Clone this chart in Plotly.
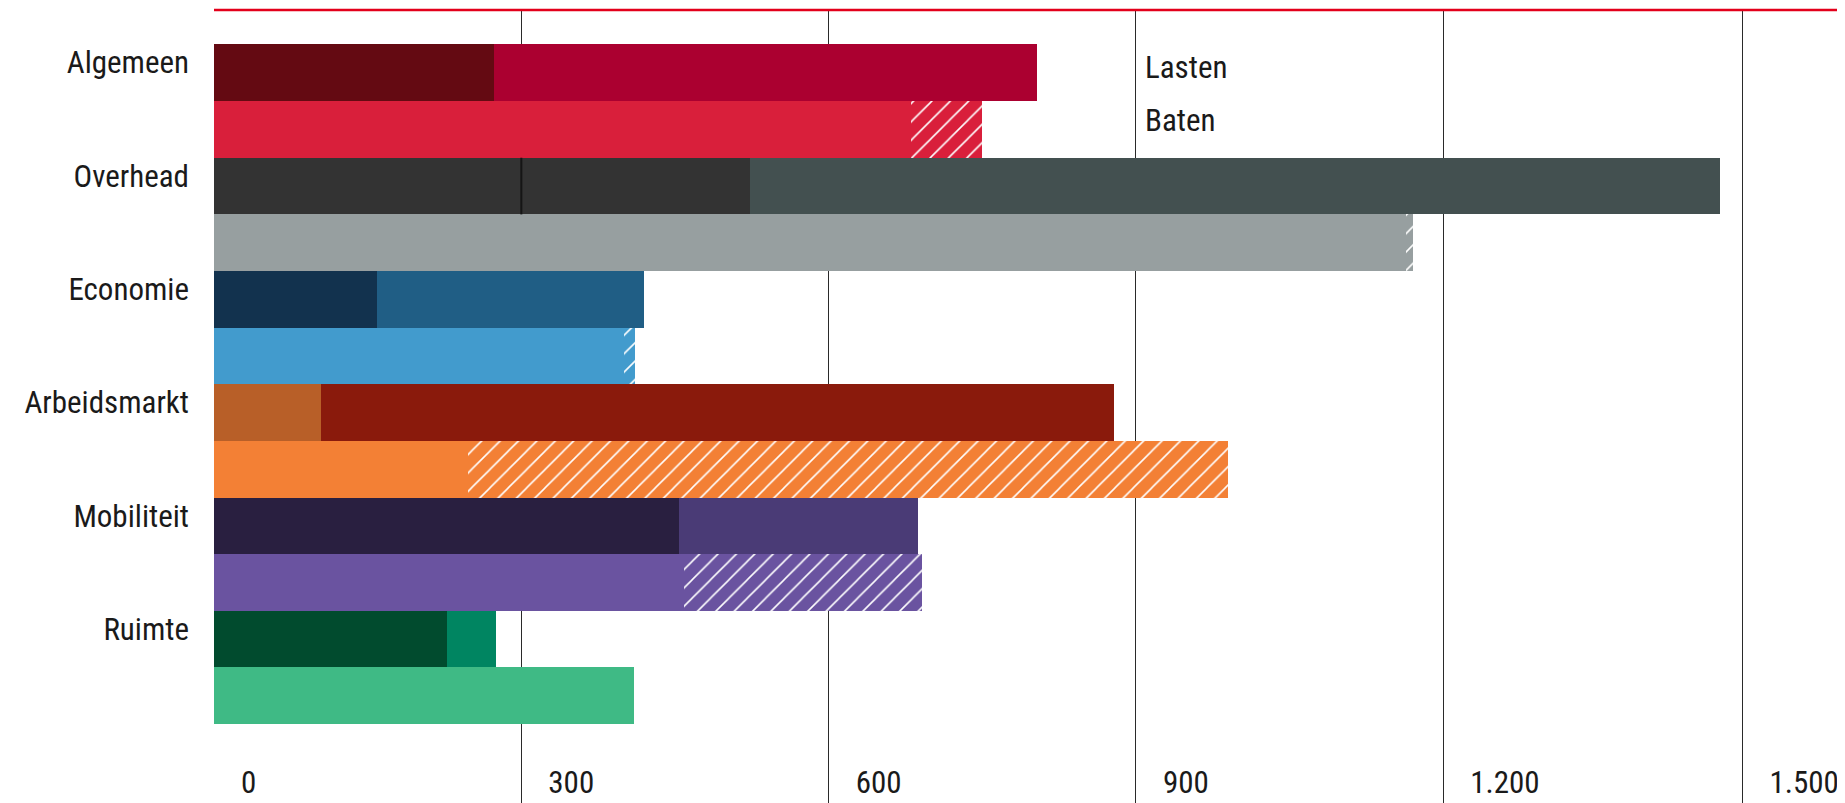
import plotly.graph_objects as go

# ---- data ----
categories = ["Algemeen", "Overhead", "Economie", "Arbeidsmarkt", "Mobiliteit", "Ruimte"]
lasten_deel1 = [273, 300, 159, 104, 454, 227]
lasten_deel2 = [530, 223, 261, 775, 233, 48]
lasten_deel3 = [0, 947, 0, 0, 0, 0]
baten_vast = [680, 1164, 400, 248, 459, 410]
baten_extra = [70, 6, 11, 742, 232, 0]
x_ticklabels = ["0", "300", "600", "900", "1.200", "1.500"]
# grid positions as drawn in the source (its last line sits slightly short of 1500)
x_tick_positions = [0, 300, 600, 900, 1200, 1492]
legend_labels = ["Lasten", "Baten"]

# ---- styles ----
col_l1 = ["#640a12", "#333333", "#12324e", "#b85f28", "#291f40", "#014b2e"]
col_l2 = ["#ab0030", "#333333", "#205e85", "#8a1a0c", "#4a3b76", "#008561"]
col_l3 = ["#ab0030", "#435050", "#205e85", "#8a1a0c", "#4a3b76", "#008561"]
col_b = ["#d91f3b", "#979fa0", "#429bcd", "#f38035", "#6a53a0", "#3fba85"]
FONT = ("Roboto Condensed, Liberation Sans Narrow, Noto Sans Condensed, "
        "DejaVu Sans Condensed, Arial Narrow, Roboto, sans-serif")
TXT = "#1a1a1a"
FS = 31

n = len(categories)
y_lasten = [2 * i for i in range(n)]
y_baten = [2 * i + 1 for i in range(n)]

fig = go.Figure()

def add_bar(vals, ypos, colors, pattern=None):
    marker = dict(color=colors, line=dict(width=0))
    if pattern:
        marker["pattern"] = pattern
    fig.add_trace(go.Bar(
        x=vals, y=ypos, orientation="h", width=1.0,
        marker=marker, showlegend=False, hoverinfo="skip",
    ))

add_bar(lasten_deel1, y_lasten, col_l1)
add_bar(lasten_deel2, y_lasten, col_l2)
add_bar(lasten_deel3, y_lasten, col_l3)
add_bar(baten_vast, y_baten, col_b)
# hatched extra part of baten, one trace per category so each gets its own background
for i in range(n):
    add_bar([baten_extra[i]], [y_baten[i]], col_b[i],
            pattern=dict(shape="/", fgcolor="white", bgcolor=col_b[i], fgopacity=1,
                         size=13, solidity=0.12, fillmode="replace"))

# separator between equal-coloured overhead segments
oi = categories.index("Overhead")
fig.add_trace(go.Scatter(
    x=[lasten_deel1[oi], lasten_deel1[oi]],
    y=[y_lasten[oi] - 0.5, y_lasten[oi] + 0.5],
    mode="lines", line=dict(color="#151515", width=2),
    showlegend=False, hoverinfo="skip",
))

px_per_unit = 1.0244
ML, MR = 206, 0
x_max = (1845 - ML) / px_per_unit

fig.update_layout(
    width=1845, height=803,
    margin=dict(l=ML, r=MR, t=1.5, b=8),
    paper_bgcolor="white", plot_bgcolor="white",
    barmode="stack",
    font=dict(family=FONT, size=FS, color=TXT),
    xaxis=dict(
        range=[0, x_max],
        tickvals=x_tick_positions, ticktext=x_ticklabels,
        showgrid=True, gridcolor="#2a2a2a", gridwidth=1.2,
        zeroline=True, zerolinecolor="rgba(0,0,0,0)", zerolinewidth=0,
        showline=False, ticks="",
        ticklabelposition="inside right",
        ticklabelshift=27, ticklabelstandoff=-2,
        tickfont=dict(family=FONT, size=FS, color=TXT),
    ),
    yaxis=dict(
        range=[12.894, -1.109],
        tickvals=[y - 0.18 for y in y_lasten], ticktext=categories,
        showgrid=False, zeroline=False, showline=False, ticks="",
        ticklabelstandoff=24,
        tickfont=dict(family=FONT, size=FS, color=TXT),
    ),
    shapes=[dict(type="line", xref="paper", yref="paper", x0=0, x1=1, y0=1, y1=1,
                 line=dict(color="#e3001b", width=2.5))],
    annotations=[
        dict(x=900, y=-0.1, xref="x", yref="y", text=legend_labels[0], showarrow=False,
             xanchor="left", yanchor="middle", xshift=7,
             font=dict(family=FONT, size=FS, color=TXT)),
        dict(x=900, y=0.84, xref="x", yref="y", text=legend_labels[1], showarrow=False,
             xanchor="left", yanchor="middle", xshift=7,
             font=dict(family=FONT, size=FS, color=TXT)),
    ],
)

fig.write_html("out.html")
